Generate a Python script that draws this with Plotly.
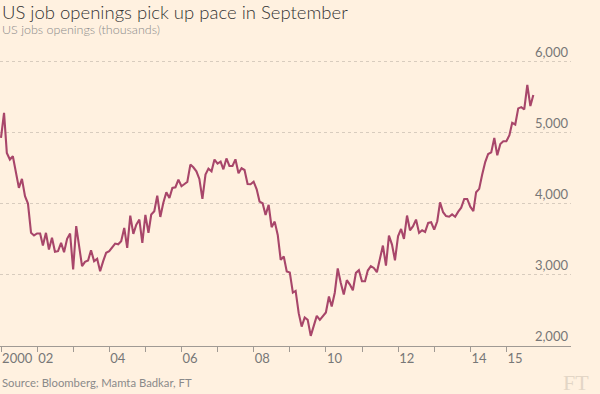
import pandas as pd
import plotly.graph_objects as go

# Monthly US job openings (thousands), Dec 2000 - Sep 2015
start_month = "2000-12"
end_month = "2015-09"
openings = [
    4930, 5281, 4718, 4625, 4672, 4428, 4226, 4353, 4109, 4005,
    3593, 3556, 3584, 3584, 3415, 3593, 3358, 3523, 3326, 3335,
    3452, 3321, 3509, 3584, 3077, 3687, 3405, 3124, 3185, 3204,
    3349, 3194, 3227, 3054, 3194, 3312, 3335, 3400, 3442, 3432,
    3475, 3662, 3381, 3836, 3578, 3709, 3780, 3451, 3845, 3592,
    3850, 3897, 4117, 3817, 4014, 4164, 4084, 4225, 4235, 4342,
    4249, 4281, 4310, 4553, 4516, 4460, 4352, 4070, 4413, 4497,
    4460, 4624, 4567, 4595, 4488, 4640, 4535, 4535, 4628, 4431,
    4502, 4478, 4281, 4277, 4314, 4206, 4033, 4009, 3845, 3986,
    3672, 3751, 3564, 3212, 3259, 3048, 3034, 2752, 2776, 2462,
    2274, 2401, 2368, 2143, 2284, 2424, 2368, 2415, 2471, 2696,
    2555, 2750, 3091, 2888, 2724, 2926, 2865, 2785, 3029, 3067,
    2912, 2912, 3062, 3123, 3099, 3039, 3217, 3414, 3132, 3554,
    3428, 3207, 3545, 3648, 3508, 3836, 3629, 3686, 3780, 3592,
    3629, 3606, 3733, 3742, 3639, 3756, 4023, 3883, 3829, 3820,
    3853, 3820, 3891, 3947, 4070, 4070, 3962, 3900, 4165, 4212,
    4410, 4589, 4703, 4726, 4929, 4684, 4844, 4882, 4882, 4967,
    5142, 5118, 5345, 5363, 5330, 5675, 5378, 5533,
]

# Axis ticks
x_tick_years = list(range(2001, 2016))
x_tick_labels = ["2000", "02", "", "04", "", "06", "", "08", "", "10", "", "12", "", "14", "15"]
y_tick_values = [2000, 3000, 4000, 5000, 6000]

title_text = "US job openings pick up pace in September"
subtitle_text = "US jobs openings (thousands)"
source_text = "Source: Bloomberg, Mamta Badkar, FT"

# openings are measured on the last business day of each month
dates = (
    pd.period_range(start_month, end_month, freq="M")
    .to_timestamp(how="end")
    .normalize()
)
tick_dates = [f"{y}-01-01" for y in x_tick_years]

BG = "#fff1e0"
LINE = "#a8466a"
FONT = "Lato, 'Open Sans', sans-serif"

# plot area geometry (pixels)
T, B, L, R = 37, 48, 0, 29
H = 394 - T - B
W = 600 - L - R


def py(pix):
    """pixel row -> paper y"""
    return (394 - B - pix) / H


def px(pix):
    return (pix - L) / W


fig = go.Figure()
fig.add_trace(
    go.Scatter(
        x=dates,
        y=openings,
        mode="lines",
        line=dict(color=LINE, width=2.1),
        hoverinfo="x+y",
    )
)

fig.update_layout(
    width=600,
    height=394,
    paper_bgcolor=BG,
    plot_bgcolor=BG,
    showlegend=False,
    margin=dict(l=L, r=R, t=T, b=B, pad=0),
    font=dict(family=FONT, color="#777777", size=13),
    xaxis=dict(
        type="date",
        range=["2000-12-21", "2016-10-15"],
        tickvals=tick_dates,
        ticktext=x_tick_labels,
        ticks="outside",
        ticklen=5,
        tickcolor="#a09a94",
        tickwidth=1,
        showline=True,
        linecolor="#a09a94",
        linewidth=1,
        showgrid=False,
        zeroline=False,
        ticklabelposition="outside right",
        tickfont=dict(size=13, color="#777777"),
        automargin=False,
        fixedrange=True,
    ),
    yaxis=dict(
        range=[2000, 6350],
        tickvals=y_tick_values,
        tickformat=",",
        side="right",
        ticklabelposition="inside top",
        ticks="",
        showgrid=True,
        gridcolor="#d8ccbe",
        griddash="dot",
        gridwidth=1,
        showline=False,
        zeroline=False,
        tickfont=dict(size=13, color="#777777"),
        automargin=False,
        fixedrange=True,
    ),
)

annotations = [
    dict(text=title_text, x=px(0), y=py(12), xanchor="left", yanchor="middle",
         font=dict(size=18.5, color="#333333", family=FONT, weight=300)),
    dict(text=subtitle_text, x=px(0), y=py(29), xanchor="left", yanchor="middle",
         font=dict(size=12.5, color="#8a8a8a", family=FONT, weight=300)),
    dict(text=source_text, x=px(0), y=py(382), xanchor="left", yanchor="middle",
         font=dict(size=11.3, color="#8a8a8a", family=FONT)),
    dict(text="FT", x=px(591), y=py(382), xanchor="right", yanchor="middle",
         font=dict(size=22, color="#e3d6c6", family="'Liberation Serif', 'DejaVu Serif', serif")),
]
for a in annotations:
    a.update(xref="paper", yref="paper", showarrow=False)
fig.update_layout(annotations=annotations)

# remove the default 8px page margin so the figure sits at the window's corner
fig.write_html(
    "out.html",
    config={"displayModeBar": False},
    post_script="document.body.style.margin='0';document.body.style.background='%s';" % BG,
)
